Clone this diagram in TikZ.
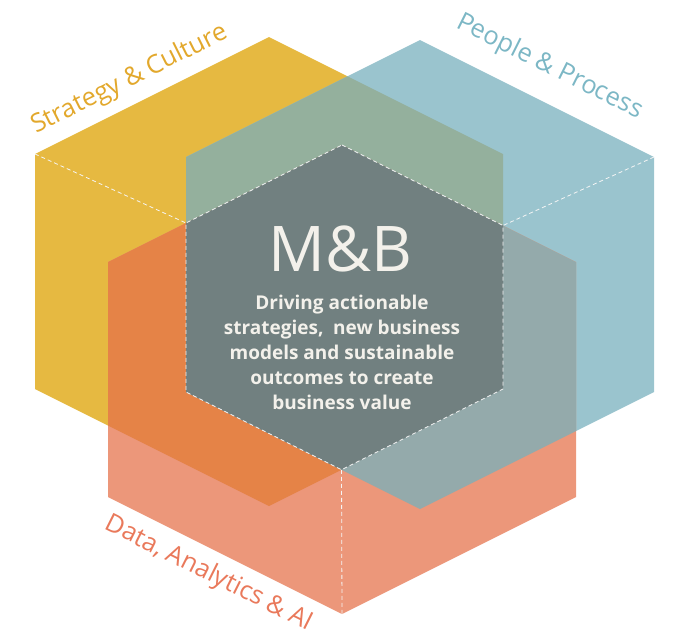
\documentclass[tikz,border=0pt]{standalone}
\usepackage{fontspec}
\setmainfont{Open Sans}
\definecolor{cY}{HTML}{E6B941}
\definecolor{cB}{HTML}{9AC4CE}
\definecolor{cO}{HTML}{EC977A}
\definecolor{cYO}{HTML}{E58347}
\definecolor{cYB}{HTML}{94B09D}
\definecolor{cBO}{HTML}{94AAAB}
\definecolor{cC}{HTML}{718080}
\definecolor{tY}{HTML}{E2A82C}
\definecolor{tB}{HTML}{7CB7C5}
\definecolor{tO}{HTML}{E9795B}
\definecolor{tW}{HTML}{F3F1EB}
\tikzset{
  dashline/.style={draw=white!92!gray, line width=0.8pt, dash pattern=on 4pt off 3pt},
  lbl/.style={inner sep=0pt, font=\fontsize{25.5}{30}\selectfont},
}
\begin{document}
\begin{tikzpicture}[x=1pt,y=-1pt]
\useasboundingbox (0,0) rectangle (683,643);
% yellow hexagon
\coordinate (yT) at (269,37);  \coordinate (yUR) at (503,154); \coordinate (yLR) at (503,389);
\coordinate (yB) at (269,506); \coordinate (yLL) at (35,389);  \coordinate (yUL) at (35,154);
% blue hexagon
\coordinate (bT) at (420,40);  \coordinate (bUR) at (654,157); \coordinate (bLR) at (654,392);
\coordinate (bB) at (420,509); \coordinate (bLL) at (186,392); \coordinate (bUL) at (186,157);
% orange hexagon
\coordinate (oT) at (342,145); \coordinate (oUR) at (576,262); \coordinate (oLR) at (576,497);
\coordinate (oB) at (342,614); \coordinate (oLL) at (108,497); \coordinate (oUL) at (108,262);
% centre hexagon
\coordinate (cUR) at (503,225.5); \coordinate (cLR) at (503,389); \coordinate (cB) at (341.5,469.75);
\coordinate (cLL) at (186,392); \coordinate (cUL) at (186,223);
\def\hexY{(yT) -- (yUR) -- (yLR) -- (yB) -- (yLL) -- (yUL) -- cycle}
\def\hexB{(bT) -- (bUR) -- (bLR) -- (bB) -- (bLL) -- (bUL) -- cycle}
\def\hexO{(oT) -- (oUR) -- (oLR) -- (oB) -- (oLL) -- (oUL) -- cycle}
\fill[cY] \hexY;
\fill[cB] \hexB;
\fill[cO] \hexO;
\begin{scope}\clip \hexY; \fill[cYB] \hexB; \end{scope}
\begin{scope}\clip \hexY; \fill[cYO] \hexO; \end{scope}
\begin{scope}\clip \hexB; \fill[cBO] \hexO; \end{scope}
\begin{scope}\clip \hexY; \clip \hexB; \fill[cC] \hexO; \end{scope}
% dashed edges
\draw[dashline] (oT) -- (cUR) -- (cLR) -- (cB) -- (cLL) -- (cUL) -- cycle;
\draw[dashline] (yUL) -- (cUL);
\draw[dashline] (bUR) -- (cUR);
\draw[dashline] (cB) -- (oB);
% labels
\node[lbl, text=tY, rotate=26.57, anchor=base west] (ls) at (36,134) {Strategy \& Culture};
\node[lbl, text=tB, rotate=-26.57, anchor=base west] (lp) at (455,27) {People \& Process};
\node[lbl, text=tO, rotate=-26.57, anchor=north west] (ld) at (112,511) {Data, Analytics \& AI};
% centre text
\node[inner sep=0pt, text=tW, font=\fontsize{63}{72}\selectfont, anchor=base] (mb) at (340,271) {M\&B};
\node[inner sep=0pt, text=tW, font=\bfseries\fontsize{19}{25}\selectfont, align=center, anchor=north] (tx) at (342,295)
  {Driving actionable\\strategies,\hspace{0.25em} new business\\models and sustainable\\outcomes to create\\business value};
\end{tikzpicture}
\end{document}
